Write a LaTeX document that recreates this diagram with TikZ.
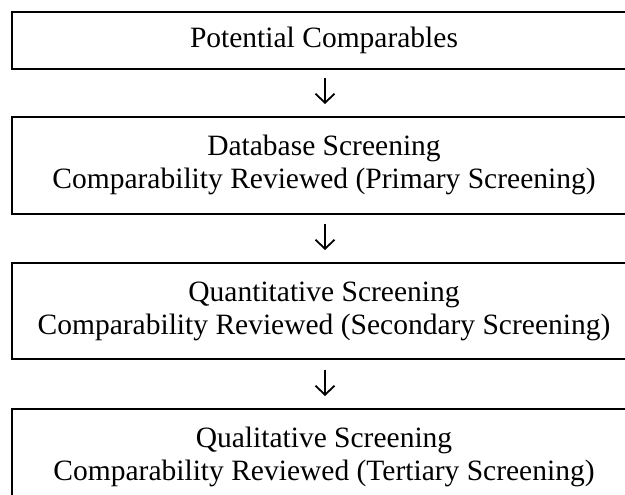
\documentclass[tikz,border=0pt]{standalone}
\usepackage{fontspec}
\setmainfont{Liberation Serif}
\usetikzlibrary{arrows.meta}
\begin{document}
\begin{tikzpicture}[x=1pt,y=1pt,
  stagebox/.style={draw=black,line width=2pt},
  stagetext/.style={align=center,font=\fontsize{29.5}{33}\selectfont,inner sep=0pt},
  flow/.style={line width=1.8pt,-{Straight Barb[length=9pt,width=19pt,line width=1.8pt]}}]
\useasboundingbox (0,0) rectangle (625,-495);
\clip (0,0) rectangle (625,-495);
\draw[stagebox] (12,-12) rectangle (640,-69);
\draw[stagebox] (12,-117) rectangle (640,-214);
\draw[stagebox] (12,-263) rectangle (640,-359);
\draw[stagebox] (12,-409) rectangle (640,-520);
\node[stagetext] (t1) at (324,-40) {Potential Comparables};
\node[stagetext] (t2) at (324,-164.5) {Database Screening\\Comparability Reviewed (Primary Screening)};
\node[stagetext] (t3) at (324,-311) {Quantitative Screening\\Comparability Reviewed (Secondary Screening)};
\node[stagetext] (t4) at (324,-457) {Qualitative Screening\\Comparability Reviewed (Tertiary Screening)};
\coordinate (a1s) at (325,-78); \coordinate (a1e) at (325,-104);
\coordinate (a2s) at (325,-224); \coordinate (a2e) at (325,-250);
\coordinate (a3s) at (325,-370); \coordinate (a3e) at (325,-396);
\draw[flow] (a1s) -- (a1e);
\draw[flow] (a2s) -- (a2e);
\draw[flow] (a3s) -- (a3e);
\end{tikzpicture}
\end{document}
